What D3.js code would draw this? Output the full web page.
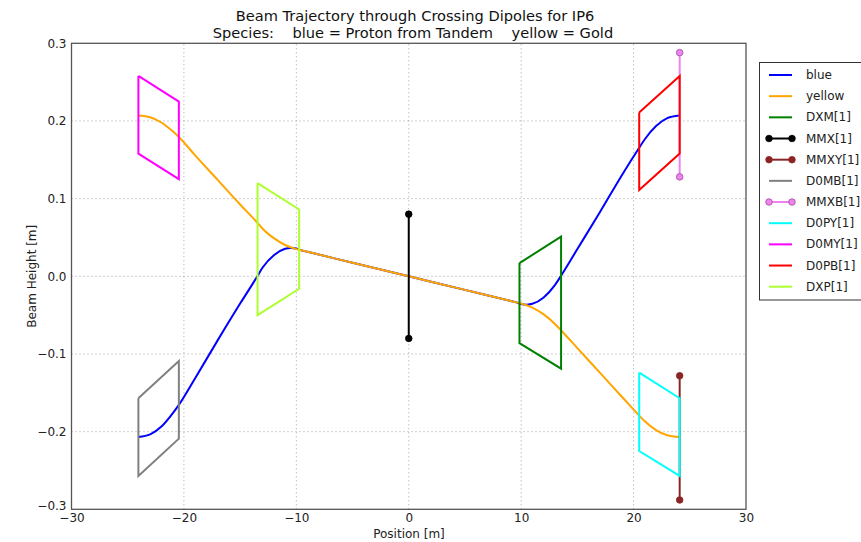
<!DOCTYPE html>
<html>
<head>
<meta charset="utf-8">
<script src="https://cdn.jsdelivr.net/npm/d3@7"></script>
<style>
  body { margin: 0; background: #ffffff; }
  svg { display: block; font-family: "DejaVu Sans", sans-serif; }
</style>
</head>
<body>
<svg id="chart" width="861" height="542"></svg>
<script>
// ---- data ----
const xTicks = [-30, -20, -10, 0, 10, 20, 30];
const yTicks = [-0.3, -0.2, -0.1, 0.0, 0.1, 0.2, 0.3];

const blueX = [-24.05, -23, -22, -21, -20.45, -19, -17, -15, -13.45, -13, -12, -11, -10.5, -10, -9.5, -9, -5, 0, 5, 9, 9.5, 10, 10.5, 11, 12, 13, 13.5, 15, 17, 19, 20.5, 21, 22, 23, 24.07];
const blueY = [-0.207, -0.2036, -0.1935, -0.1765, -0.1655, -0.1312, -0.0825, -0.0351, 0.0004, 0.0113, 0.0272, 0.0354, 0.0365, 0.0357, 0.0333, 0.0315, 0.0175, 0.0, -0.0175, -0.0315, -0.0333, -0.0357, -0.0365, -0.0354, -0.0272, -0.0113, -0.0004, 0.0351, 0.0825, 0.1312, 0.1655, 0.1765, 0.1935, 0.2036, 0.207];

const yellowX = [-24.05, -23, -22, -21, -20.45, -19, -17, -15, -13.45, -13, -12, -11, -10, -9.5, -9, -5, 0, 5, 9, 9.5, 10, 11, 12, 13, 13.5, 15, 17, 19, 20.5, 21, 22, 23, 24.07];
const yellowY = [0.207, 0.2047, 0.198, 0.1867, 0.1794, 0.1557, 0.1241, 0.0925, 0.0688, 0.0613, 0.0491, 0.0403, 0.035, 0.0333, 0.0315, 0.0175, 0.0, -0.0175, -0.0315, -0.0333, -0.035, -0.0403, -0.0491, -0.0613, -0.0688, -0.0925, -0.1241, -0.1557, -0.1794, -0.1867, -0.198, -0.2047, -0.207];

const dxmX = [9.85, 13.55, 13.55, 9.85, 9.85];
const dxmY = [0.017, 0.051, -0.119, -0.086, 0.017];
const mmxX = [0, 0];
const mmxY = [0.08, -0.08];
const mmxyX = [24.1, 24.1];
const mmxyY = [-0.128, -0.288];
const d0mbX = [-24.05, -20.45, -20.45, -24.05, -24.05];
const d0mbY = [-0.157, -0.109, -0.209, -0.257, -0.157];
const mmxbX = [24.1, 24.1];
const mmxbY = [0.288, 0.128];
const d0pyX = [20.5, 24.1, 24.1, 20.5, 20.5];
const d0pyY = [-0.124, -0.157, -0.257, -0.225, -0.124];
const d0myX = [-24.05, -20.45, -20.45, -24.05, -24.05];
const d0myY = [0.258, 0.225, 0.125, 0.158, 0.258];
const d0pbX = [20.5, 24.1, 24.1, 20.5, 20.5];
const d0pbY = [0.211, 0.258, 0.158, 0.111, 0.211];
const dxpX = [-13.45, -9.75, -9.75, -13.45, -13.45];
const dxpY = [0.120, 0.086, -0.016, -0.050, 0.120];

const seriesNames = ["blue", "yellow", "DXM[1]", "MMX[1]", "MMXY[1]", "D0MB[1]", "MMXB[1]", "D0PY[1]", "D0MY[1]", "D0PB[1]", "DXP[1]"];
const seriesColors = ["#0000ff", "#ffa500", "#008000", "#000000", "#8b2525", "#808080", "#ee82ee", "#00ffff", "#ff00ff", "#ff0000", "#adff2f"];
const seriesMarkers = [false, false, false, true, true, false, true, false, false, false, false];

const titleLine1 = "Beam Trajectory through Crossing Dipoles for IP6";
const titleLine2 = "Species:    blue = Proton from Tandem    yellow = Gold";
const xLabel = "Position [m]";
const yLabel = "Beam Height [m]";

// ---- drawing ----
const svg = d3.select("#chart");
const margin = { left: 71.5, right: 746, top: 43.3, bottom: 509.3 };
const x = d3.scaleLinear().domain([-30, 30]).range([margin.left, margin.right]);
const y = d3.scaleLinear().domain([-0.3, 0.3]).range([margin.bottom, margin.top]);

const fmtY = v => (v < 0 ? "\u2212" : "") + Math.abs(v).toFixed(1);
const fmtX = v => (v < 0 ? "\u2212" : "") + Math.abs(v);

// grid
const grid = svg.append("g");
xTicks.slice(1, -1).forEach(t => {
  grid.append("line").attr("x1", x(t)).attr("x2", x(t)).attr("y1", y(-0.3)).attr("y2", y(0.3))
    .attr("stroke", "#888").attr("stroke-width", 0.8).attr("stroke-dasharray", "1,3");
});
yTicks.slice(1, -1).forEach(t => {
  grid.append("line").attr("x1", x(-30)).attr("x2", x(30)).attr("y1", y(t)).attr("y2", y(t))
    .attr("stroke", "#888").attr("stroke-width", 0.8).attr("stroke-dasharray", "1,3");
});

// axes labels via d3 axes (no tick lines shown)
const xAxis = d3.axisBottom(x).tickValues(xTicks).tickFormat(fmtX).tickSize(0).tickPadding(4);
const gx = svg.append("g").attr("transform", `translate(0,${margin.bottom})`).call(xAxis);
gx.select(".domain").remove();
gx.selectAll("text").attr("font-size", 12).attr("fill", "#222").attr("font-family", "DejaVu Sans");

const yAxis = d3.axisLeft(y).tickValues(yTicks).tickFormat(fmtY).tickSize(0).tickPadding(5);
const gy = svg.append("g").attr("transform", `translate(${margin.left},0)`).call(yAxis);
gy.select(".domain").remove();
gy.selectAll("text").attr("font-size", 12).attr("fill", "#222").attr("font-family", "DejaVu Sans");
gy.selectAll(".tick").filter(d => d === -0.3).select("text").attr("dy", "0.05em");

// series
const line = d3.line().x(d => x(d[0])).y(d => y(d[1]));
const smooth = d3.line().x(d => x(d[0])).y(d => y(d[1])).curve(d3.curveMonotoneX);
const zip = (a, b) => a.map((v, i) => [v, b[i]]);

const plot = svg.append("g");
const seriesData = [
  zip(blueX, blueY), zip(yellowX, yellowY), zip(dxmX, dxmY), zip(mmxX, mmxY), zip(mmxyX, mmxyY),
  zip(d0mbX, d0mbY), zip(mmxbX, mmxbY), zip(d0pyX, d0pyY), zip(d0myX, d0myY), zip(d0pbX, d0pbY), zip(dxpX, dxpY)
];
seriesData.forEach((pts, i) => {
  plot.append("path").attr("d", i < 2 ? smooth(pts) : line(pts))
    .attr("fill", "none").attr("stroke", seriesColors[i]).attr("stroke-width", 2)
    .attr("stroke-linejoin", "miter");
  if (seriesMarkers[i]) {
    pts.forEach(p => {
      plot.append("circle").attr("cx", x(p[0])).attr("cy", y(p[1])).attr("r", 3.3)
        .attr("fill", seriesColors[i])
        .attr("stroke", i === 6 ? "#a04ea0" : seriesColors[i]).attr("stroke-width", 0.8);
    });
  }
});

// frame
svg.append("rect").attr("x", margin.left).attr("y", margin.top)
  .attr("width", margin.right - margin.left).attr("height", margin.bottom - margin.top)
  .attr("fill", "none").attr("stroke", "#555").attr("stroke-width", 1.3);

// titles
svg.append("text").attr("x", 415).attr("y", 21).attr("text-anchor", "middle")
  .attr("font-size", 14.6).attr("fill", "#111").text(titleLine1);
svg.append("text").attr("x", 413).attr("y", 38).attr("text-anchor", "middle")
  .attr("font-size", 14.6).attr("fill", "#111").style("white-space", "pre").text(titleLine2);

svg.append("text").attr("x", 409).attr("y", 538).attr("text-anchor", "middle")
  .attr("font-size", 12).attr("fill", "#222").text(xLabel);
svg.append("text").attr("transform", `translate(36,${(margin.top + margin.bottom) / 2}) rotate(-90)`)
  .attr("text-anchor", "middle").attr("font-size", 12).attr("fill", "#222").text(yLabel);

// legend
const leg = svg.append("g");
leg.append("rect").attr("x", 759.5).attr("y", 62.5).attr("width", 120).attr("height", 237.5)
  .attr("fill", "#fff").attr("stroke", "#333").attr("stroke-width", 1);
seriesNames.forEach((name, i) => {
  const yy = 75 + i * 21.17;
  leg.append("line").attr("x1", 769).attr("x2", 792).attr("y1", yy).attr("y2", yy)
    .attr("stroke", seriesColors[i]).attr("stroke-width", 2);
  if (seriesMarkers[i]) {
    [769, 792].forEach(cx => leg.append("circle").attr("cx", cx).attr("cy", yy).attr("r", 3.3)
      .attr("fill", seriesColors[i]).attr("stroke", i === 6 ? "#a04ea0" : seriesColors[i]).attr("stroke-width", 0.8));
  }
  leg.append("text").attr("x", 806).attr("y", yy + 4).attr("font-size", 12).attr("fill", "#222").text(name);
});
</script>
</body>
</html>
